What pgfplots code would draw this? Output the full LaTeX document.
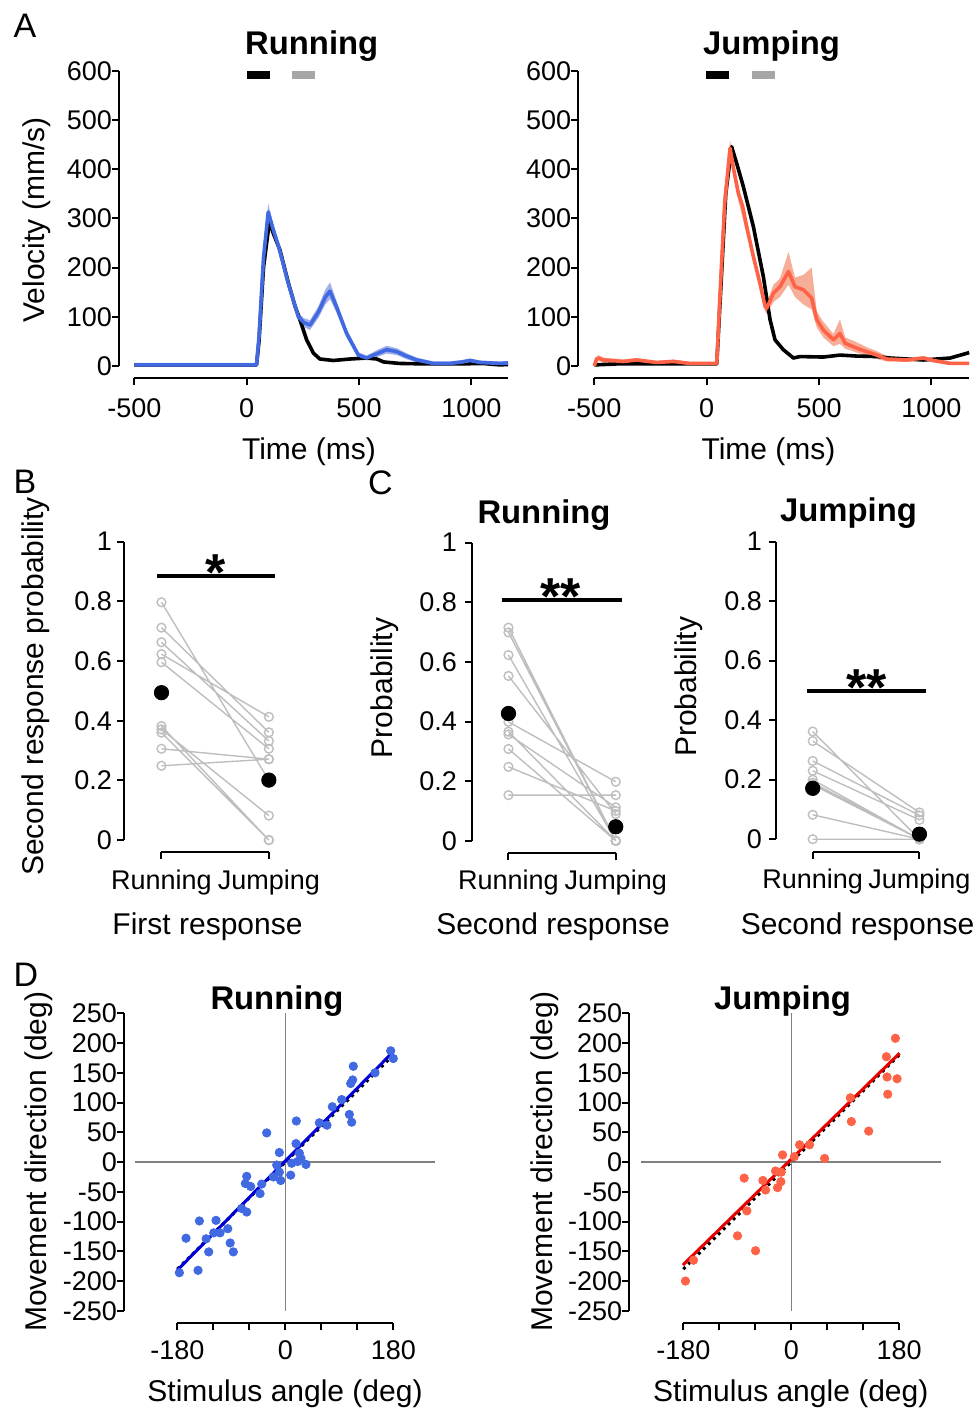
\documentclass[border=0pt]{standalone}
\usepackage{fontspec}
\setmainfont{Liberation Sans}
\usepackage{pgfplots}
\pgfplotsset{compat=1.18}

\definecolor{runblue}{RGB}{65,105,225}
\definecolor{runband}{RGB}{130,150,225}
\definecolor{jumpred}{RGB}{255,99,71}
\definecolor{jumpband}{RGB}{245,160,135}
\definecolor{subjgray}{RGB}{190,190,190}
\definecolor{fitblue}{RGB}{0,0,215}
\definecolor{fitred}{RGB}{230,0,0}
\definecolor{zerogray}{RGB}{128,128,128}

\newcommand{\tickfont}{\fontsize{13.5}{15}\selectfont}
\newcommand{\labfont}{\fontsize{15}{17}\selectfont}
\newcommand{\titfont}{\fontsize{16.4}{18}\selectfont\bfseries}
\newcommand{\letfont}{\fontsize{17}{19}\selectfont}
\newcommand{\starfont}{\fontsize{26}{28}\selectfont\bfseries}

\pgfplotsset{
  panel/.style={
    scale only axis, clip=false, anchor=south west,
    axis line style={draw=none},
    xtick pos=bottom, ytick pos=left,
    tick align=outside, major tick length=3.5pt,
    tick style={black, line width=1pt},
    tick label style={font=\tickfont},
  },
  pairs/.style={subjgray, line width=0.7pt, mark=o, mark size=2.2pt,
    unbounded coords=jump},
  means/.style={only marks, mark=*, mark size=3.6pt, black},
  sigbar/.style={black, line width=2pt},
  probpanel/.style={panel, xmin=-0.34, xmax=1.1, ymin=-0.04, ymax=1,
    xtick={0,1}, xticklabels={Running,Jumping},
    ytick={0,0.2,0.4,0.6,0.8,1}, yticklabels={0,0.2,0.4,0.6,0.8,1},
    xticklabel style={yshift=-2pt}},
  angpanel/.style={panel, xmin=-269, xmax=252, ymin=-271, ymax=250,
    xtick={-180,-120,-60,0,60,120,180}, xticklabels={-180,,,0,,,180},
    ytick={-250,-200,...,250},
    yticklabels={-250,-200,-150,-100,-50,0,50,100,150,200,250},
    xticklabel style={yshift=-1.5pt}, yticklabel style={xshift=3.5pt}},
}

\begin{document}
\begin{tikzpicture}
\begin{scope}[x=0.5pt, y=-0.5pt, shift={(0pt,704.5pt)}]
  \path (0,0) rectangle (977,1409);
  \coordinate (A1) at (119,377.7);
  \coordinate (A2) at (578.3,377.7);
  \coordinate (B1) at (124,851.7);
  \coordinate (C1) at (472.3,853.3);
  \coordinate (C2) at (776,851.7);
  \coordinate (D1) at (124,1323.3);
  \coordinate (D2) at (629.3,1323.3);
\end{scope}

% ---------------- A: velocity, running
\begin{axis}[panel, at={(A1)}, width=194.5pt, height=153.35pt,
  xmin=-568, xmax=1163, ymin=-24, ymax=600,
  xtick={-500,0,500,1000}, xticklabels={-500,0,500,1000},
  ytick={0,100,...,600}, yticklabels={0,100,200,300,400,500,600},
  xticklabel style={yshift=-3.3pt}, yticklabel style={xshift=3.5pt},
  line join=round]
\draw[line width=1pt] (axis cs:-568,0) -- (axis cs:-568,600);
\draw[line width=1pt] (axis cs:-500,-24) -- (axis cs:1163,-24);
\addplot[fill=runband, draw=none, opacity=0.75] coordinates {
  (-500,6)(-200,6)(44,6)(55,66)(75,230)(96,330)(120,285)(141,253)(185,176)
  (230,108)(255,97)(282,93)(320,122)(350,155)(371,170)(400,132)(445,75)
  (497,28)(534,21)(580,32)(623,41)(668,36)(710,26)(757,17)(831,9)(905,9)
  (960,12)(994,15)(1039,11)(1128,9)(1163,10)
  (1163,2)(1128,1)(1039,3)(994,7)(960,4)(905,1)(831,1)(757,7)(710,14)
  (668,22)(623,25)(580,18)(534,11)(497,16)(445,57)(400,108)(371,136)
  (350,125)(320,98)(282,73)(255,79)(230,92)(185,160)(141,237)(120,265)
  (96,298)(75,210)(55,54)(44,-2)(-200,-2)(-500,-2)} -- cycle;
\addplot[black, line width=1.8pt] coordinates {
  (-500,2)(-200,2)(44,2)(55,50)(75,200)(101,293)(120,268)(148,236)(185,170)
  (215,122)(237,94)(267,53)(297,26)(326,14)(386,11)(460,14)(534,16)(579,14)
  (610,8)(680,5)(800,4)(950,4)(1050,5)(1128,2)(1163,3)};
\addplot[runblue, line width=1.8pt] coordinates {
  (-500,2)(-200,2)(44,2)(55,60)(75,220)(96,313)(120,275)(141,245)(185,168)
  (230,100)(255,88)(282,83)(320,110)(350,140)(371,152)(400,120)(445,66)
  (497,22)(534,16)(580,25)(623,33)(668,29)(710,20)(757,12)(831,5)(905,5)
  (960,8)(994,11)(1039,7)(1128,5)(1163,6)};
\end{axis}

% ---------------- A: velocity, jumping
\begin{axis}[panel, at={(A2)}, width=195.35pt, height=153.35pt,
  xmin=-571, xmax=1167, ymin=-24, ymax=600,
  xtick={-500,0,500,1000}, xticklabels={-500,0,500,1000},
  ytick={0,100,...,600}, yticklabels={0,100,200,300,400,500,600},
  xticklabel style={yshift=-3.3pt}, yticklabel style={xshift=3.5pt},
  line join=round]
\draw[line width=1pt] (axis cs:-571,0) -- (axis cs:-571,600);
\draw[line width=1pt] (axis cs:-500,-24) -- (axis cs:1167,-24);
\addplot[fill=jumpband, draw=none, opacity=0.85] coordinates {
  (-500,3)(-482,22)(-460,17)(-371,13)(-312,16)(-223,10)(-148,13)(-74,8)(45,8)
  (60,160)(80,345)(104,460)(120,415)(141,365)(178,298)(208,235)(237,180)
  (260,130)(267,128)(297,165)(326,178)(364,232)(393,180)(430,185)(467,200)
  (490,110)(519,90)(564,65)(593,95)(616,58)(668,48)(712,38)(757,30)(801,20)
  (890,16)(964,20)(1009,15)(1083,8)(1168,8)
  (1168,2)(1083,2)(1009,7)(964,12)(890,8)(801,9)(757,14)(712,20)(668,27)
  (616,35)(593,45)(564,40)(519,58)(490,78)(467,115)(430,125)(393,140)
  (364,165)(326,140)(297,130)(267,106)(260,110)(237,155)(208,210)(178,268)
  (141,335)(120,385)(104,425)(80,315)(60,140)(45,2)(-74,2)(-148,5)(-223,4)
  (-312,8)(-371,5)(-460,7)(-482,10)(-500,-3)} -- cycle;
\addplot[black, line width=1.8pt] coordinates {
  (-500,2)(-400,4)(-200,4)(45,4)(62,150)(85,350)(111,446)(135,410)(163,365)
  (208,283)(252,182)(282,94)(304,53)(341,33)(386,16)(415,19)(519,18)(593,22)
  (668,20)(757,19)(816,16)(964,12)(1083,16)(1168,27)};
\addplot[jumpred, line width=1.8pt] coordinates {
  (-500,0)(-490,14)(-482,16)(-460,12)(-371,9)(-312,12)(-223,7)(-148,9)(-74,5)
  (45,5)(60,150)(80,330)(104,443)(120,400)(141,351)(160,325)(178,283)
  (208,222)(237,168)(260,121)(267,117)(297,148)(326,161)(364,192)(393,161)
  (430,155)(467,138)(490,94)(519,73)(564,53)(593,66)(616,46)(668,36)(712,29)
  (757,22)(801,14)(890,12)(964,16)(1009,11)(1083,5)(1168,5)};
\end{axis}

% ---------------- B: first response
\begin{axis}[probpanel, at={(B1)}, width=77.8pt, height=155pt,
  xmin=-0.349, ymin=-0.039, yticklabel style={xshift=1pt}]
\draw[line width=1pt] (axis cs:-0.349,0) -- (axis cs:-0.349,1);
\draw[line width=1pt] (axis cs:0,-0.039) -- (axis cs:1,-0.039);
\addplot[pairs] coordinates {
  (0,0.797)(1,0.200) (0,nan) (0,0.712)(1,0.361) (0,nan)
  (0,0.663)(1,0.332) (0,nan) (0,0.623)(1,0.413) (0,nan)
  (0,0.596)(1,0.306) (0,nan) (0,0.382)(1,0.000) (0,nan)
  (0,0.371)(1,0.082) (0,nan) (0,0.360)(1,0.000) (0,nan)
  (0,0.306)(1,0.271) (0,nan) (0,0.249)(1,0.271)};
\addplot[means] coordinates {(0,0.494)(1,0.201)};
\addplot[sigbar] coordinates {(-0.043,0.885)(1.06,0.885)};
\end{axis}

% ---------------- C: second response, running
\begin{axis}[probpanel, at={(C1)}, width=77.1pt, height=155.3pt,
  xmin=-0.337, ymin=-0.042, yticklabel style={xshift=-0.7pt},
  xticklabel style={yshift=0.5pt}]
\draw[line width=1pt] (axis cs:-0.337,0) -- (axis cs:-0.337,1);
\draw[line width=1pt] (axis cs:0,-0.042) -- (axis cs:1,-0.042);
\addplot[pairs] coordinates {
  (0,0.715)(1,0.000) (0,nan) (0,0.699)(1,0.000) (0,nan)
  (0,0.623)(1,0.000) (0,nan) (0,0.553)(1,0.090) (0,nan)
  (0,0.399)(1,0.198) (0,nan) (0,0.366)(1,0.000) (0,nan)
  (0,0.357)(1,0.112) (0,nan) (0,0.308)(1,0.000) (0,nan)
  (0,0.248)(1,0.100) (0,nan) (0,0.153)(1,0.153)};
\addplot[means] coordinates {(0,0.427)(1,0.047)};
\addplot[sigbar] coordinates {(-0.056,0.808)(1.056,0.808)};
\end{axis}

% ---------------- C: second response, jumping
\begin{axis}[probpanel, at={(C2)}, width=77.05pt, height=155pt,
  xmin=-0.344, ymin=-0.042, xticklabel style={yshift=0.5pt}]
\draw[line width=1pt] (axis cs:-0.344,0) -- (axis cs:-0.344,1);
\draw[line width=1pt] (axis cs:0,-0.042) -- (axis cs:1,-0.042);
\addplot[pairs] coordinates {
  (0,0.362)(1,0.000) (0,nan) (0,0.330)(1,0.090) (0,nan)
  (0,0.263)(1,0.080) (0,nan) (0,0.230)(1,0.065) (0,nan)
  (0,0.200)(1,0.000) (0,nan) (0,0.190)(1,0.000) (0,nan)
  (0,0.183)(1,0.000) (0,nan) (0,0.082)(1,0.000) (0,nan)
  (0,0.000)(1,0.000)};
\addplot[means] coordinates {(0,0.171)(1,0.017)};
\addplot[sigbar] coordinates {(-0.05,0.499)(1.06,0.499)};
\end{axis}

% ---------------- D: direction, running
\begin{axis}[angpanel, at={(D1)}, width=156.25pt, height=155pt]
\draw[line width=1pt] (axis cs:-269,-250) -- (axis cs:-269,250);
\draw[line width=1pt] (axis cs:-180,-271) -- (axis cs:180,-271);
\addplot[zerogray, line width=0.7pt] coordinates {(-250,0)(250,0)};
\addplot[zerogray, line width=0.7pt] coordinates {(0,-250)(0,250)};
\addplot[only marks, mark=*, mark size=2.1pt, runblue] coordinates {
  (-176.7,-186)(-165.6,-128)(-143.3,-99)(-145.6,-182)(-132,-129)(-127.8,-151)
  (-119.4,-119)(-115.6,-98)(-108.9,-119)(-96,-112)(-92,-136)(-86.7,-151)
  (-72.8,-78)(-64.4,-84)(-66.7,-36)(-64.4,-24)(-57.8,-41)(-42.2,-53)
  (-39.4,-37)(-31.1,49)(-20,-25)(-14.4,-5)(-10,-17)(-10,16)(-7.8,-31)
  (8.9,-22)(10.6,-2)(17.8,31)(18.3,69)(20.6,1)(23.3,15)(26.1,6)(34.4,-4)
  (56.7,66)(69.4,62)(78.3,93)(93.9,105)(106.7,80)(110.6,67)(108.9,132)
  (112.2,138)(113.3,161)(149.4,150)(175.6,187)(180,174)};
\addplot[black, dotted, line width=1.5pt] coordinates {(-180,-180)(180,180)};
\addplot[fitblue, line width=1.5pt] coordinates {(-180,-181.6)(180,185.5)};
\end{axis}

% ---------------- D: direction, jumping
\begin{axis}[angpanel, at={(D2)}, width=156.55pt, height=155pt, xmin=-270]
\draw[line width=1pt] (axis cs:-270,-250) -- (axis cs:-270,250);
\draw[line width=1pt] (axis cs:-180,-271) -- (axis cs:180,-271);
\addplot[zerogray, line width=0.7pt] coordinates {(-250,0)(250,0)};
\addplot[zerogray, line width=0.7pt] coordinates {(0,-250)(0,250)};
\addplot[only marks, mark=*, mark size=2.1pt, jumpred] coordinates {
  (-176.4,-200)(-163,-165)(-89.6,-124)(-78.5,-27)(-74,-82)(-59.5,-149)
  (-47.3,-31)(-42.8,-47)(-26.2,-15)(-22.8,-43)(-17.3,-33)(-16.7,-17)
  (-14.5,12)(5,9)(13.9,29)(30.6,29)(55.6,6)(98.5,108)(100.2,68)(129.1,52)
  (158.6,177)(159.7,143)(160.8,114)(173.6,208)(176.4,140)};
\addplot[black, dotted, line width=1.5pt] coordinates {(-180,-180)(180,180)};
\addplot[fitred, line width=1.5pt] coordinates {(-180.6,-173)(180.6,183)};
\end{axis}

% ---------------- text and decorations
\begin{scope}[x=0.5pt, y=-0.5pt, shift={(0pt,704.5pt)},
  every node/.style={inner sep=0pt}]
  % panel letters
  \node[font=\letfont, anchor=base] at (25,38) {A};
  \node[font=\letfont, anchor=base] at (25,493.3) {B};
  \node[font=\letfont, anchor=base] at (380.5,495) {C};
  \node[font=\letfont, anchor=base] at (26,987) {D};
  % titles
  \node[font=\titfont, anchor=base] at (311.7,55) {Running};
  \node[font=\titfont, anchor=base] at (771.5,55) {Jumping};
  \node[font=\titfont, anchor=base] at (544,523.3) {Running};
  \node[font=\titfont, anchor=base] at (848.5,521.7) {Jumping};
  \node[font=\titfont, anchor=base] at (277,1010) {Running};
  \node[font=\titfont, anchor=base] at (782.5,1010) {Jumping};
  % legend bars
  \draw[black, line width=4pt] (247,75) -- (270,75);
  \draw[black!35, line width=4pt] (292,75) -- (315,75);
  \draw[black, line width=4pt] (706,75) -- (729,75);
  \draw[black!35, line width=4pt] (752,75) -- (775,75);
  % axis labels
  \node[font=\labfont, anchor=base, rotate=90] at (44.3,220) {Velocity (mm/s)};
  \node[font=\labfont, anchor=base] at (309,459.3) {Time (ms)};
  \node[font=\labfont, anchor=base] at (768.5,459.3) {Time (ms)};
  \node[font=\labfont, anchor=base, rotate=90] at (43.3,686.5) {Second response probability};
  \node[font=\labfont, anchor=base] at (207.5,935) {First response};
  \node[font=\labfont, anchor=base, rotate=90] at (392,688) {Probability};
  \node[font=\labfont, anchor=base] at (553,935) {Second response};
  \node[font=\labfont, anchor=base, rotate=90] at (696.7,686.7) {Probability};
  \node[font=\labfont, anchor=base] at (857.5,935) {Second response};
  \node[font=\labfont, anchor=base, rotate=90] at (46.7,1161.7) {Movement direction (deg)};
  \node[font=\labfont, anchor=base] at (285,1401.7) {Stimulus angle (deg)};
  \node[font=\labfont, anchor=base, rotate=90] at (552.3,1161.7) {Movement direction (deg)};
  \node[font=\labfont, anchor=base] at (790.8,1401.7) {Stimulus angle (deg)};
  % significance stars
  \node[font=\starfont, anchor=base] at (216,590.5) {*};
  \node[font=\starfont, anchor=base] at (561,615) {**};
  \node[font=\starfont, anchor=base] at (866.5,705.5) {**};
\end{scope}
\end{tikzpicture}
\end{document}
